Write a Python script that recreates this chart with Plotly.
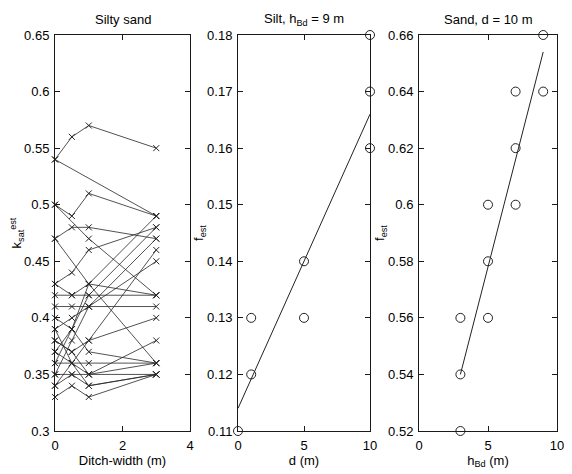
import plotly.graph_objects as go

# ---------- Panel 1: Silty sand (ditch width vs k_sat^est) ----------
ditch_series_x = [
    [0, 0.5, 1, 3],
    [0, 3],
    [0, 0.5, 1, 3],
    [0, 1, 3],
    [0, 0.5, 1, 3],
    [0, 1, 3],
    [0, 0.5, 1, 3],
    [0, 0.5, 1, 3],
    [0, 0.5, 1, 3],
    [0, 0.5, 1, 3],
    [0, 0.5, 1, 3],
    [0, 0.5, 1, 3],
    [0, 0.5, 1, 3],
    [0, 0.5, 1, 3],
    [0, 0.5, 1, 3],
    [0, 0.5, 1, 3],
    [0, 0.5, 1, 3],
    [0, 0.5, 1, 3],
    [0, 0.5, 1, 3],
    [0, 0.5, 1, 3],
    [0, 0.5, 1, 3],
    [0, 0.5, 1, 3],
    [0, 0.5, 1, 3],
    [0, 0.5, 1, 3],
]
ditch_series_k = [
    [0.54, 0.56, 0.57, 0.55],
    [0.54, 0.49],
    [0.50, 0.49, 0.51, 0.49],
    [0.50, 0.47, 0.42],
    [0.47, 0.48, 0.48, 0.47],
    [0.47, 0.43, 0.36],
    [0.43, 0.44, 0.46, 0.48],
    [0.43, 0.42, 0.43, 0.42],
    [0.42, 0.42, 0.42, 0.42],
    [0.41, 0.41, 0.41, 0.41],
    [0.39, 0.40, 0.41, 0.45],
    [0.38, 0.37, 0.38, 0.40],
    [0.37, 0.39, 0.42, 0.48],
    [0.36, 0.36, 0.36, 0.36],
    [0.35, 0.35, 0.35, 0.36],
    [0.34, 0.35, 0.34, 0.35],
    [0.33, 0.34, 0.33, 0.35],
    [0.39, 0.36, 0.34, 0.35],
    [0.35, 0.38, 0.41, 0.47],
    [0.36, 0.39, 0.43, 0.49],
    [0.38, 0.37, 0.35, 0.38],
    [0.34, 0.36, 0.38, 0.46],
    [0.40, 0.39, 0.37, 0.36],
    [0.37, 0.36, 0.35, 0.35],
]

# ---------- Panel 2: Silt, h_Bd = 9 m (d vs f_est) ----------
silt_d = [0, 1, 1, 5, 5, 10, 10, 10]
silt_f = [0.11, 0.12, 0.13, 0.14, 0.13, 0.18, 0.17, 0.16]
silt_fit_d = [0, 10]
silt_fit_f = [0.114, 0.166]

# ---------- Panel 3: Sand, d = 10 m (h_Bd vs f_est) ----------
sand_h = [3, 3, 3, 5, 5, 5, 7, 7, 7, 9, 9]
sand_f = [0.52, 0.54, 0.56, 0.56, 0.58, 0.60, 0.60, 0.62, 0.64, 0.64, 0.66]
sand_fit_h = [3, 9]
sand_fit_f = [0.540, 0.654]

FONT = "Liberation Sans, Arial, sans-serif"
INK = "#1a1a1a"
FS = 13

# page has an 8px body margin; figure coordinates are page coordinates minus 8
W, H = 564, 466
OFF = 8

fig = go.Figure()

for xs, ks in zip(ditch_series_x, ditch_series_k):
    fig.add_trace(go.Scatter(
        x=xs, y=ks, mode="lines+markers",
        line=dict(color="#262626", width=0.8),
        marker=dict(symbol="x-thin-open", size=6, line=dict(color="#262626", width=1)),
        xaxis="x", yaxis="y", showlegend=False, cliponaxis=False,
    ))

fig.add_trace(go.Scatter(
    x=silt_fit_d, y=silt_fit_f, mode="lines",
    line=dict(color="#222222", width=1),
    xaxis="x2", yaxis="y2", showlegend=False,
))
fig.add_trace(go.Scatter(
    x=silt_d, y=silt_f, mode="markers",
    marker=dict(symbol="circle-open", size=9, color="#222222", line=dict(width=1)),
    xaxis="x2", yaxis="y2", showlegend=False, cliponaxis=False,
))

fig.add_trace(go.Scatter(
    x=sand_fit_h, y=sand_fit_f, mode="lines",
    line=dict(color="#222222", width=1),
    xaxis="x3", yaxis="y3", showlegend=False,
))
fig.add_trace(go.Scatter(
    x=sand_h, y=sand_f, mode="markers",
    marker=dict(symbol="circle-open", size=9, color="#222222", line=dict(width=1)),
    xaxis="x3", yaxis="y3", showlegend=False, cliponaxis=False,
))


def px_x(p):
    return (p - OFF) / W


def px_y(p):
    return 1 - (p - OFF) / H


ydom = [px_y(431), px_y(35)]
xdoms = [[px_x(55), px_x(190)], [px_x(238), px_x(370)], [px_x(419), px_x(557)]]

common = dict(
    showline=True, linecolor=INK, linewidth=1, mirror="ticks",
    ticks="inside", ticklen=5, tickcolor=INK, showgrid=False, zeroline=False,
    automargin=False, ticklabelstandoff=2,
    tickfont=dict(family=FONT, size=FS, color="#000000"),
)
tfont = dict(family=FONT, size=FS, color="#000000")

fig.update_layout(
    width=W, height=H,
    margin=dict(l=0, r=0, t=0, b=0),
    paper_bgcolor="white", plot_bgcolor="white",
    font=dict(family=FONT, size=FS, color="#000000"),
    xaxis=dict(domain=xdoms[0], range=[0, 4], tickvals=[0, 2, 4], anchor="y",
               title=dict(text="Ditch-width (m)", standoff=0, font=tfont), **common),
    yaxis=dict(domain=ydom, range=[0.3, 0.65], anchor="x",
               tickvals=[0.3, 0.35, 0.4, 0.45, 0.5, 0.55, 0.6, 0.65],
               ticktext=["0.3", "0.35", "0.4", "0.45", "0.5", "0.55", "0.6", "0.65"],
               title=dict(text="k<sub>sat</sub><sup>est</sup>", standoff=0, font=tfont), **common),
    xaxis2=dict(domain=xdoms[1], range=[0, 10], tickvals=[0, 5, 10], anchor="y2",
                title=dict(text="d (m)", standoff=0, font=tfont), **common),
    yaxis2=dict(domain=ydom, range=[0.11, 0.18], anchor="x2",
                tickvals=[0.11, 0.12, 0.13, 0.14, 0.15, 0.16, 0.17, 0.18],
                ticktext=["0.11", "0.12", "0.13", "0.14", "0.15", "0.16", "0.17", "0.18"],
                title=dict(text="f<sub>est</sub>", standoff=0, font=tfont), **common),
    xaxis3=dict(domain=xdoms[2], range=[0, 10], tickvals=[0, 5, 10], anchor="y3",
                title=dict(text="h<sub>Bd</sub> (m)", standoff=0, font=tfont), **common),
    yaxis3=dict(domain=ydom, range=[0.52, 0.66], anchor="x3",
                tickvals=[0.52, 0.54, 0.56, 0.58, 0.6, 0.62, 0.64, 0.66],
                ticktext=["0.52", "0.54", "0.56", "0.58", "0.6", "0.62", "0.64", "0.66"],
                title=dict(text="f<sub>est</sub>", standoff=0, font=tfont), **common),
    annotations=[
        dict(text="Silty sand", x=sum(xdoms[0]) / 2, y=px_y(19), xref="paper", yref="paper",
             showarrow=False, font=tfont, xanchor="center", yanchor="middle"),
        dict(text="Silt, h<sub>Bd</sub> = 9 m", x=sum(xdoms[1]) / 2, y=px_y(19), xref="paper", yref="paper",
             showarrow=False, font=tfont, xanchor="center", yanchor="middle"),
        dict(text="Sand, d = 10 m", x=sum(xdoms[2]) / 2, y=px_y(19), xref="paper", yref="paper",
             showarrow=False, font=tfont, xanchor="center", yanchor="middle"),
    ],
)

fig.write_html("out.html")
